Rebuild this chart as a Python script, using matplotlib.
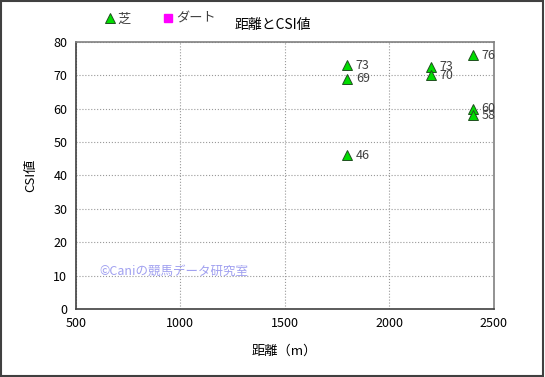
import matplotlib.pyplot as plt
from matplotlib.patches import Rectangle

plt.rcParams['font.family'] = ['Noto Sans CJK JP', 'DejaVu Sans']

# 芝のデータ
shiba_dist = [1800, 1800, 1800, 2200, 2200, 2400, 2400, 2400]
shiba_csi = [73, 69, 46, 72.5, 70, 76, 60, 58]
shiba_lbl = ['73', '69', '46', '73', '70', '76', '60', '58']
# ダートのデータ（なし）
dirt_dist = []
dirt_csi = []

x_ticks = [500, 1000, 1500, 2000, 2500]
y_ticks = [0, 10, 20, 30, 40, 50, 60, 70, 80]

fig = plt.figure(figsize=(5.45, 3.77), dpi=100)
ax = fig.add_axes([0.139, 0.180, 0.767, 0.709])

ax.plot(shiba_dist, shiba_csi, linestyle='none', marker='^', markersize=7,
        markerfacecolor='#00dd00', markeredgecolor='#205020', markeredgewidth=0.7,
        label='芝')
ax.plot(dirt_dist, dirt_csi, linestyle='none', marker='s', markersize=6,
        markerfacecolor='#ff00ff', markeredgecolor='#ff00ff', label='ダート')

for x, y, t in zip(shiba_dist, shiba_csi, shiba_lbl):
    ax.annotate(t, (x, y), xytext=(6, 0), textcoords='offset points',
                fontsize=9, color='#404040', va='center', ha='left')

ax.set_xlim(500, 2500)
ax.set_ylim(0, 80)
ax.set_xticks(x_ticks)
ax.set_yticks(y_ticks)
ax.tick_params(length=0, labelsize=9, pad=6)
ax.grid(True, linestyle=':', color='#999999', linewidth=0.8)
for s in ax.spines.values():
    s.set_color('#808080')
    s.set_linewidth(1.2)
ax.spines['left'].set_color('#404040')
ax.spines['bottom'].set_color('#404040')

ax.set_xlabel('距離（m）', fontsize=9.5, labelpad=10)
ax.set_ylabel('CSI値', fontsize=9.5, labelpad=12)
fig.text(0.5, 0.935, '距離とCSI値', ha='center', va='center', fontsize=10)

ax.legend(loc='lower left', bbox_to_anchor=(0.05, 1.04), ncol=2, frameon=False,
          fontsize=9.5, handletextpad=0.0, columnspacing=2.2, handlelength=1.2,
          labelcolor='#404040', borderaxespad=0)

ax.text(0.056, 11.4, '©Caniの競馬データ研究室', transform=ax.get_yaxis_transform(),
        fontsize=9, color='#a0a0f0', va='center', ha='left')

fig.patches.append(Rectangle((0.002, 0.003), 0.995, 0.994, transform=fig.transFigure,
                             fill=False, edgecolor='#404040', linewidth=1.5))

fig.savefig('out.png', dpi=100)
